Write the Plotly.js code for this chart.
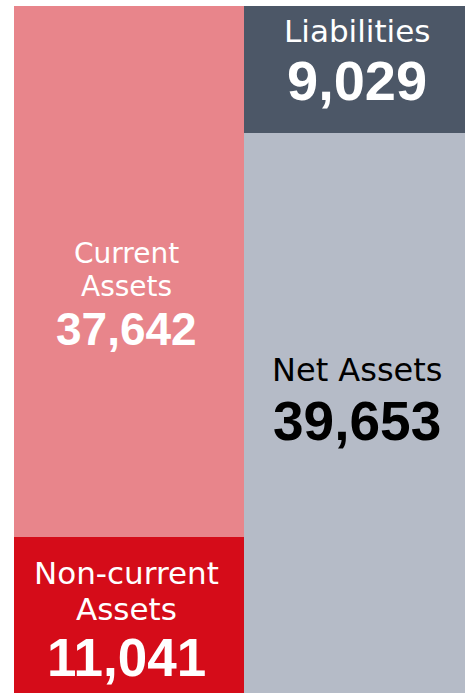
<!DOCTYPE html>
<html>
<head>
<meta charset="utf-8">
<script src="https://cdn.plot.ly/plotly-3.0.1.min.js"></script>
<style>
  html, body { margin: 0; padding: 0; background: #ffffff; }
  #chart { width: 465px; height: 693px; }
</style>
</head>
<body>
<div id="chart"></div>
<script>
// ---- Data ----
const columns = ['Assets', 'Liabilities and Net Assets'];

const assetItems = ['Non-current Assets', 'Current Assets'];      // bottom -> top
const assetValues = [11041, 37642];
const assetLabelLines = [['Non-current', 'Assets'], ['Current', 'Assets']];

const claimItems = ['Net Assets', 'Liabilities'];                   // bottom -> top
const claimValues = [39653, 9029];
const claimLabelLines = [['Net Assets'], ['Liabilities']];

// ---- Styles ----
const assetColors = ['#D50C19', '#E8858B'];
const claimColors = ['#B5BBC7', '#4C5767'];
const assetTextColors = ['#ffffff', '#ffffff'];
const claimTextColors = ['#000000', '#ffffff'];

// text placement: anchor ('mid' = segment centre, 'top' = segment top) and pixel shifts
const assetAnchor = ['mid', 'mid'];
const assetLabelShifts = [[42, 6], [18.5, -14.5]];
const assetLabelSizes = [31, 28];
const assetNumberShifts = [-42.5, -57.5];
const assetNumberSizes = [53, 46];

const claimAnchor = ['mid', 'top'];
const claimLabelShifts = [[43], [-25]];
const claimLabelSizes = [32, 31];
const claimNumberShifts = [-8, -74.5];
const claimNumberSizes = [55, 56];

const labelFont = 'DejaVu Sans, Verdana, sans-serif';
const numberFont = 'Liberation Sans, Arial, sans-serif';

const fmt = v => v.toLocaleString('en-US');

const traces = [];
const annotations = [];

function addStack(col, items, values, colors, textColors, labelLines, anchors,
                  labelShifts, labelSizes, numberShifts, numberSizes, width, offset, xshift) {
  let base = 0;
  items.forEach((name, i) => {
    traces.push({
      type: 'bar',
      name: name,
      x: [col],
      y: [values[i]],
      width: width,
      offset: offset,
      marker: { color: colors[i], line: { width: 0 } },
      hoverinfo: 'skip',
      showlegend: false
    });
    const yRef = anchors[i] === 'top' ? base + values[i] : base + values[i] / 2;
    labelLines[i].forEach((line, j) => {
      annotations.push({
        x: col, y: yRef, xref: 'x', yref: 'y',
        text: line, showarrow: false,
        xanchor: 'center', yanchor: 'middle',
        yshift: labelShifts[i][j], xshift: xshift,
        font: { family: labelFont, size: labelSizes[i], color: textColors[i] }
      });
    });
    annotations.push({
      x: col, y: yRef, xref: 'x', yref: 'y',
      text: '<b>' + fmt(values[i]) + '</b>', showarrow: false,
      xanchor: 'center', yanchor: 'middle',
      yshift: numberShifts[i], xshift: xshift,
      font: { family: numberFont, size: numberSizes[i], color: textColors[i] }
    });
    base += values[i];
  });
}

addStack(columns[0], assetItems, assetValues, assetColors, assetTextColors,
         assetLabelLines, assetAnchor, assetLabelShifts, assetLabelSizes,
         assetNumberShifts, assetNumberSizes, 1.02, -0.5, 0);
addStack(columns[1], claimItems, claimValues, claimColors, claimTextColors,
         claimLabelLines, claimAnchor, claimLabelShifts, claimLabelSizes,
         claimNumberShifts, claimNumberSizes, 0.98, -0.48, 5);

const total = Math.max(
  assetValues.reduce((a, b) => a + b, 0),
  claimValues.reduce((a, b) => a + b, 0)
);

const layout = {
  width: 465, height: 693,
  margin: { l: 14, r: 0, t: 6, b: 0, pad: 0 },
  barmode: 'stack',
  bargap: 0,
  paper_bgcolor: '#ffffff',
  plot_bgcolor: '#ffffff',
  showlegend: false,
  xaxis: { type: 'category', range: [-0.5, 1.5], visible: false, fixedrange: true },
  yaxis: { range: [0, total], visible: false, fixedrange: true },
  annotations: annotations
};

Plotly.newPlot('chart', traces, layout, { displayModeBar: false, staticPlot: true });
</script>
</body>
</html>
